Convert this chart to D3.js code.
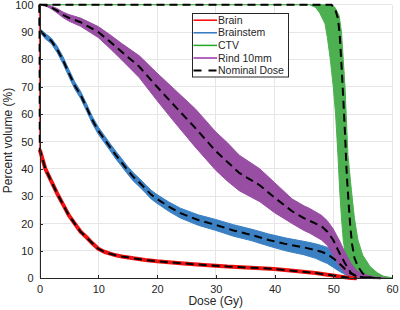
<!DOCTYPE html>
<meta charset="utf-8">
<style>
body { margin: 0; background: #fff; }
svg { font-family: "Liberation Sans", Arial, sans-serif; }
.axis path, .axis line { stroke: #262626; shape-rendering: crispEdges; }
.axis text { font-size: 11px; fill: #262626; }
.grid line { stroke: #e6e6e6; shape-rendering: crispEdges; }
.label { font-size: 12px; fill: #262626; }
.legend text { font-size: 10.5px; fill: #262626; }
</style>
<svg width="400" height="310"></svg>
<script src="https://d3js.org/d3.v7.min.js"></script>
<script>

// ticks
var xTicks = [0, 10, 20, 30, 40, 50, 60];
var yTicks = [0, 10, 20, 30, 40, 50, 60, 70, 80, 90, 100];

// Brain (nominal only, band is a thick line)
var brainDose = [0, 0.05, 1, 2, 3, 4, 5, 6, 7, 8, 9, 10, 11, 12, 13, 14, 16, 18, 20, 24, 28, 32, 36, 40, 44, 47, 49, 50, 51, 52, 53, 54];
var brainNom  = [100, 47, 40, 35.5, 31, 27, 23, 20, 17, 15, 12.8, 10.8, 9.7, 9, 8.4, 8, 7.3, 6.7, 6.2, 5.5, 4.9, 4.3, 3.9, 3.4, 2.6, 1.9, 1.3, 1, 0.7, 0.4, 0.1, 0];

// Brainstem
var stemDose = [0, 0.05, 1, 2, 3, 4, 5, 6, 7, 8, 9, 10, 11, 12, 13, 14, 15, 16, 17, 18, 19, 20, 22, 24, 27, 30, 33, 36, 39, 42, 45, 47, 48, 49, 50, 51, 52, 53, 54, 55, 57];
var stemNom  = [100, 90.7, 88.5, 86.8, 83.7, 79.7, 75, 70.5, 67, 62.5, 57.8, 54, 51, 48, 45, 42.3, 39.5, 37, 35, 32.8, 30.6, 29, 26.2, 23.8, 21.3, 19.5, 17.5, 15.9, 14, 12.5, 11.3, 10.3, 9.7, 8.8, 7.3, 5.5, 3.4, 1.7, 0.7, 0.3, 0];
var stemHi   = [100, 91.2, 89.5, 87.8, 84.9, 81, 76.3, 71.8, 68.3, 63.8, 59.1, 55.3, 52.3, 49.3, 46.4, 43.7, 40.9, 38.5, 36.5, 34.3, 32.2, 30.6, 27.9, 25.6, 23.2, 21.5, 19.6, 18, 16.2, 14.7, 13.5, 12.6, 12, 11.3, 10, 8.5, 6.3, 4, 2.2, 1.2, 0.2];
var stemLo   = [100, 90, 87.5, 85.8, 82.5, 78.4, 73.7, 69.2, 65.7, 61.2, 56.5, 52.7, 49.7, 46.7, 43.6, 40.9, 38.1, 35.5, 33.5, 31.3, 29, 27.4, 24.5, 22, 19.4, 17.5, 15.4, 13.8, 11.8, 10, 8.6, 7.3, 6.3, 5.4, 4, 2.6, 1.4, 0.6, 0.2, 0, 0];

// Rind 10mm
var rindDose = [0, 1, 2, 3, 4, 5, 7, 10, 12, 14, 17, 20, 23, 26.5, 30, 32, 34, 37.5, 40, 43, 45, 46, 48, 49, 50, 51, 52, 53, 54, 55, 57, 59];
var rindNom  = [100, 99.8, 99, 97.8, 96.3, 95.2, 93.6, 90, 86.5, 82.8, 77.3, 70, 63, 55, 46.5, 42.5, 38.5, 34, 29.5, 24.5, 22, 21, 19, 17, 14, 9.5, 5.5, 2, 0.8, 0.4, 0.1, 0];
var rindHi   = [100, 100, 99.5, 98.6, 97.3, 96.4, 95.1, 92, 89, 85.8, 81.3, 75, 69, 62, 53.5, 49.5, 45, 40, 35, 29, 26.5, 25.5, 23, 21, 18, 14, 9.5, 5.5, 2.8, 1.6, 0.5, 0.1];
var rindLo   = [100, 99.6, 98.5, 97, 95.3, 94, 92.1, 88, 84, 79.8, 73.3, 65, 57, 48, 39.5, 35.5, 32, 28, 24, 20, 17.5, 16.5, 14, 12, 8.5, 4.5, 1.8, 0.5, 0.2, 0.1, 0, 0];

// CTV
var ctvDose = [0, 49.7, 50.3, 50.8, 51.1, 51.4, 51.7, 52, 52.3, 52.6, 52.9, 53.2, 53.6, 54.2, 55, 56, 57];
var ctvNom  = [100, 100, 98.5, 95, 89, 78, 66, 53, 38, 28, 19, 12.5, 7.5, 4.3, 1.8, 0.5, 0];
var ctvLeft  = [[0, 100], [46, 100], [47, 99], [47.7, 97], [48.6, 93], [49, 88], [49.5, 80], [50, 70], [50.4, 60], [50.8, 45], [51.1, 32], [51.4, 22], [51.7, 14], [52.1, 8], [52.5, 4.2], [53.5, 1.5], [55, 0.4], [57, 0]];
var ctvRight = [[0, 100], [49.5, 100], [50.3, 99], [51, 96], [51.4, 90], [51.7, 80], [52, 70], [52.2, 60], [52.5, 45], [53.1, 32], [53.6, 22], [54.2, 14], [55, 8.5], [56.3, 4.2], [57.5, 2], [58.5, 0.8], [60, 0.2]];

var legendNames = ["Brain", "Brainstem", "CTV", "Rind 10mm", "Nominal Dose"];
var legendColors = ["#ff0000", "#2f78bf", "#22aa22", "#9933aa", "#000"];

var svg = d3.select("svg");

var x = d3.scaleLinear().domain([0, 60]).range([39.5, 392]);
var y = d3.scaleLinear().domain([0, 100]).range([278.3, 4.7]);

// grid
var grid = svg.append("g").attr("class", "grid");
grid.selectAll(".gx").data(xTicks).enter().append("line")
    .attr("x1", function(d) { return x(d); }).attr("x2", function(d) { return x(d); })
    .attr("y1", y(0)).attr("y2", y(100));
grid.selectAll(".gy").data(yTicks).enter().append("line")
    .attr("y1", function(d) { return y(d); }).attr("y2", function(d) { return y(d); })
    .attr("x1", x(0)).attr("x2", x(60));

function zip(xs, ys) { return xs.map(function(d, i) { return [d, ys[i]]; }); }

var line = d3.line().x(function(d) { return x(d[0]); }).y(function(d) { return y(d[1]); });

function band(upper, lower, color) {
  var pts = upper.concat(lower.slice().reverse());
  svg.append("path")
      .attr("d", line(pts) + "Z")
      .attr("fill", color)
      .attr("stroke", color)
      .attr("stroke-width", 1)
      .attr("stroke-linejoin", "round");
}

band(zip(stemDose, stemHi), zip(stemDose, stemLo), "#3a80c3");
band(ctvRight, ctvLeft, "#4caf50");
band(zip(rindDose, rindHi), zip(rindDose, rindLo), "#984ea3");

// brain: thin vertical part then thick band
var brain = zip(brainDose, brainNom);
svg.append("path").attr("d", line(brain.slice(0, 2)))
    .attr("fill", "none").attr("stroke", "#f03030").attr("stroke-width", 1.2);
svg.append("path").attr("d", line(brain.slice(1)))
    .attr("fill", "none").attr("stroke", "#ee1111").attr("stroke-width", 4)
    .attr("stroke-linejoin", "round");

// nominal dashed
[zip(brainDose, brainNom), zip(stemDose, stemNom), zip(rindDose, rindNom), zip(ctvDose, ctvNom)].forEach(function(c) {
  svg.append("path").attr("d", line(c))
      .attr("fill", "none").attr("stroke", "#000").attr("stroke-width", 2)
      .attr("stroke-dasharray", "8,5");
});

// axes
svg.append("g").attr("class", "axis")
    .attr("transform", "translate(0," + y(0) + ")")
    .call(d3.axisBottom(x).tickValues(xTicks).tickSizeInner(-3.5).tickSizeOuter(0).tickPadding(7));
svg.append("g").attr("class", "axis")
    .attr("transform", "translate(" + x(0) + ",0)")
    .call(d3.axisLeft(y).tickValues(yTicks).tickSizeInner(-3.5).tickSizeOuter(0).tickPadding(6));

svg.selectAll(".axis text").attr("font-family", null);

svg.append("text").attr("class", "label")
    .attr("x", x(30)).attr("y", 305)
    .attr("text-anchor", "middle").text("Dose (Gy)");
svg.append("text").attr("class", "label")
    .attr("transform", "translate(11.5," + 140.5 + ") rotate(-90)")
    .attr("text-anchor", "middle").text("Percent volume (%)");

// legend
var lg = svg.append("g").attr("class", "legend");
lg.append("rect").attr("x", 192.5).attr("y", 13.5).attr("width", 96).attr("height", 63.5)
    .attr("fill", "#fff").attr("stroke", "#262626").attr("stroke-width", 1);
var item = lg.selectAll(".item").data(legendNames).enter().append("g")
    .attr("transform", function(d, i) { return "translate(0," + (20.2 + i * 12.6) + ")"; });
item.append("line").attr("x1", 193.5).attr("x2", 217).attr("y1", 0).attr("y2", 0)
    .attr("stroke", function(d, i) { return legendColors[i]; })
    .attr("stroke-width", function(d, i) { return i == 4 ? 2 : 1.5; })
    .attr("stroke-dasharray", function(d, i) { return i == 4 ? "8,7" : null; });
item.append("text").attr("x", 218).attr("y", 0).attr("dy", "0.35em").text(function(d) { return d; });

</script>
